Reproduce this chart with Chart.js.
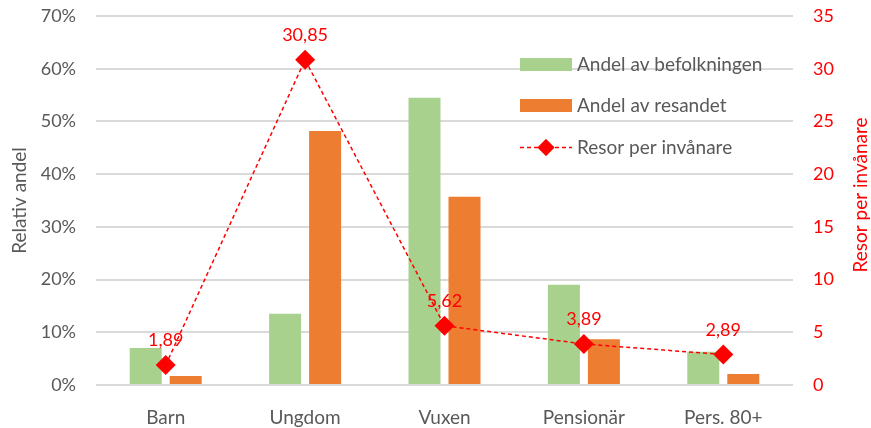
<!DOCTYPE html>
<html>
<head>
<meta charset="utf-8">
<script src="https://cdn.jsdelivr.net/npm/chart.js@4/dist/chart.umd.min.js"></script>
<style>
  html, body { margin: 0; padding: 0; background: #fff; }
  #wrap { width: 871px; height: 428px; position: relative; }
</style>
</head>
<body>
<div id="wrap"><canvas id="chart"></canvas></div>
<script>
const categories = ["Barn", "Ungdom", "Vuxen", "Pensionär", "Pers. 80+"]
const befolkning = [7.0, 13.5, 54.5, 19.0, 6.3]      // % of population
const resandet = [1.7, 48.2, 35.7, 8.7, 2.1]         // % of travel
const resorPerInvanare = [1.89, 30.85, 5.62, 3.89, 2.89]

const seriesNames = ["Andel av befolkningen", "Andel av resandet", "Resor per invånare"]
const leftTicks = [0, 10, 20, 30, 40, 50, 60, 70]
const rightTicks = [0, 5, 10, 15, 20, 25, 30, 35]

const GREEN = '#A9D18E'
const ORANGE = '#ED7D31'
const RED = '#FF0000'
const GREY = '#595959'
const FONT = 'Lato, "Noto Sans", sans-serif'

const fmt = v => v.toFixed(2).replace('.', ',')

// value labels above the diamonds
const pointLabels = {
    id: 'pointLabels',
    afterDatasetsDraw(chart) {
        const ctx = chart.ctx
        const meta = chart.getDatasetMeta(2)
        ctx.save()
        ctx.font = '18px ' + FONT
        ctx.fillStyle = RED
        ctx.textAlign = 'center'
        ctx.textBaseline = 'alphabetic'
        meta.data.forEach((pt, i) => {
            ctx.fillText(fmt(resorPerInvanare[i]), pt.x, pt.y - 19)
        })
        ctx.restore()
    }
}

// legend sits inside the plot, top right; right axis title reads bottom-to-top
const extras = {
    id: 'extras',
    afterDraw(chart) {
        const ctx = chart.ctx
        ctx.save()
        ctx.font = '19px ' + FONT
        ctx.textBaseline = 'middle'
        ctx.textAlign = 'left'
        const x0 = 520, x1 = 572, tx = 577
        const rows = [64.5, 105.5, 147.5]

        ctx.fillStyle = GREEN
        ctx.fillRect(x0, rows[0] - 6.5, x1 - x0, 13)
        ctx.fillStyle = ORANGE
        ctx.fillRect(x0, rows[1] - 6.5, x1 - x0, 13)

        ctx.strokeStyle = RED
        ctx.lineWidth = 1.5
        ctx.setLineDash([4, 3])
        ctx.beginPath()
        ctx.moveTo(x0, rows[2])
        ctx.lineTo(x1, rows[2])
        ctx.stroke()
        ctx.setLineDash([])
        Chart.helpers.drawPoint(ctx, {pointStyle: 'rectRot', radius: 8.5, rotation: 0},
            (x0 + x1) / 2, rows[2])
        ctx.fillStyle = RED
        ctx.fill()

        ctx.fillStyle = GREY
        seriesNames.forEach((name, i) => ctx.fillText(name, tx, rows[i]))

        ctx.translate(861, 195)
        ctx.rotate(-Math.PI / 2)
        ctx.textAlign = 'center'
        ctx.fillStyle = RED
        ctx.fillText('Resor per invånare', 0, 0)
        ctx.restore()
    }
}

const fitY = w => s => {
    s.width = w
    s.paddingTop = 0
    s.paddingBottom = 0
}

new Chart(document.getElementById('chart'), {
    type: 'bar',
    data: {
        labels: categories,
        datasets: [{
            label: seriesNames[0],
            data: befolkning,
            backgroundColor: GREEN,
            yAxisID: 'y',
            order: 1
        }, {
            label: seriesNames[1],
            data: resandet,
            backgroundColor: ORANGE,
            yAxisID: 'y',
            order: 2
        }, {
            type: 'line',
            label: seriesNames[2],
            data: resorPerInvanare,
            borderColor: RED,
            borderWidth: 1.5,
            borderDash: [4, 3],
            backgroundColor: RED,
            pointStyle: 'rectRot',
            pointRadius: 10,
            pointBorderWidth: 0,
            pointBackgroundColor: RED,
            tension: 0,
            yAxisID: 'y1',
            order: 0
        }]
    },
    options: {
        responsive: true,
        maintainAspectRatio: false,
        animation: false,
        events: [],
        categoryPercentage: 0.574,
        barPercentage: 0.8,
        layout: {padding: {top: 16, left: 0, right: 0, bottom: 0}},
        plugins: {
            legend: {display: false},
            tooltip: {enabled: false}
        },
        scales: {
            x: {
                grid: {display: false, drawTicks: false},
                border: {display: false},
                ticks: {color: GREY, font: {family: FONT, size: 19}, padding: 21},
                afterFit: s => { s.height = 43 }
            },
            y: {
                position: 'left',
                min: 0,
                max: 70,
                afterBuildTicks: s => { s.ticks = leftTicks.map(v => ({value: v})) },
                grid: {color: '#D9D9D9', lineWidth: 2, drawTicks: false},
                border: {display: false},
                ticks: {color: GREY, font: {family: FONT, size: 18}, padding: 20,
                    callback: v => v + '%'},
                title: {display: true, text: 'Relativ andel', color: GREY,
                    font: {family: FONT, size: 19}, padding: {top: 8, bottom: 0}},
                afterFit: fitY(96)
            },
            y1: {
                position: 'right',
                min: 0,
                max: 35,
                afterBuildTicks: s => { s.ticks = rightTicks.map(v => ({value: v})) },
                grid: {display: false, drawTicks: false},
                border: {display: false},
                ticks: {color: RED, font: {family: FONT, size: 18}, padding: 20},
                afterFit: fitY(78)
            }
        }
    },
    plugins: [pointLabels, extras]
})
</script>
</body>
</html>
